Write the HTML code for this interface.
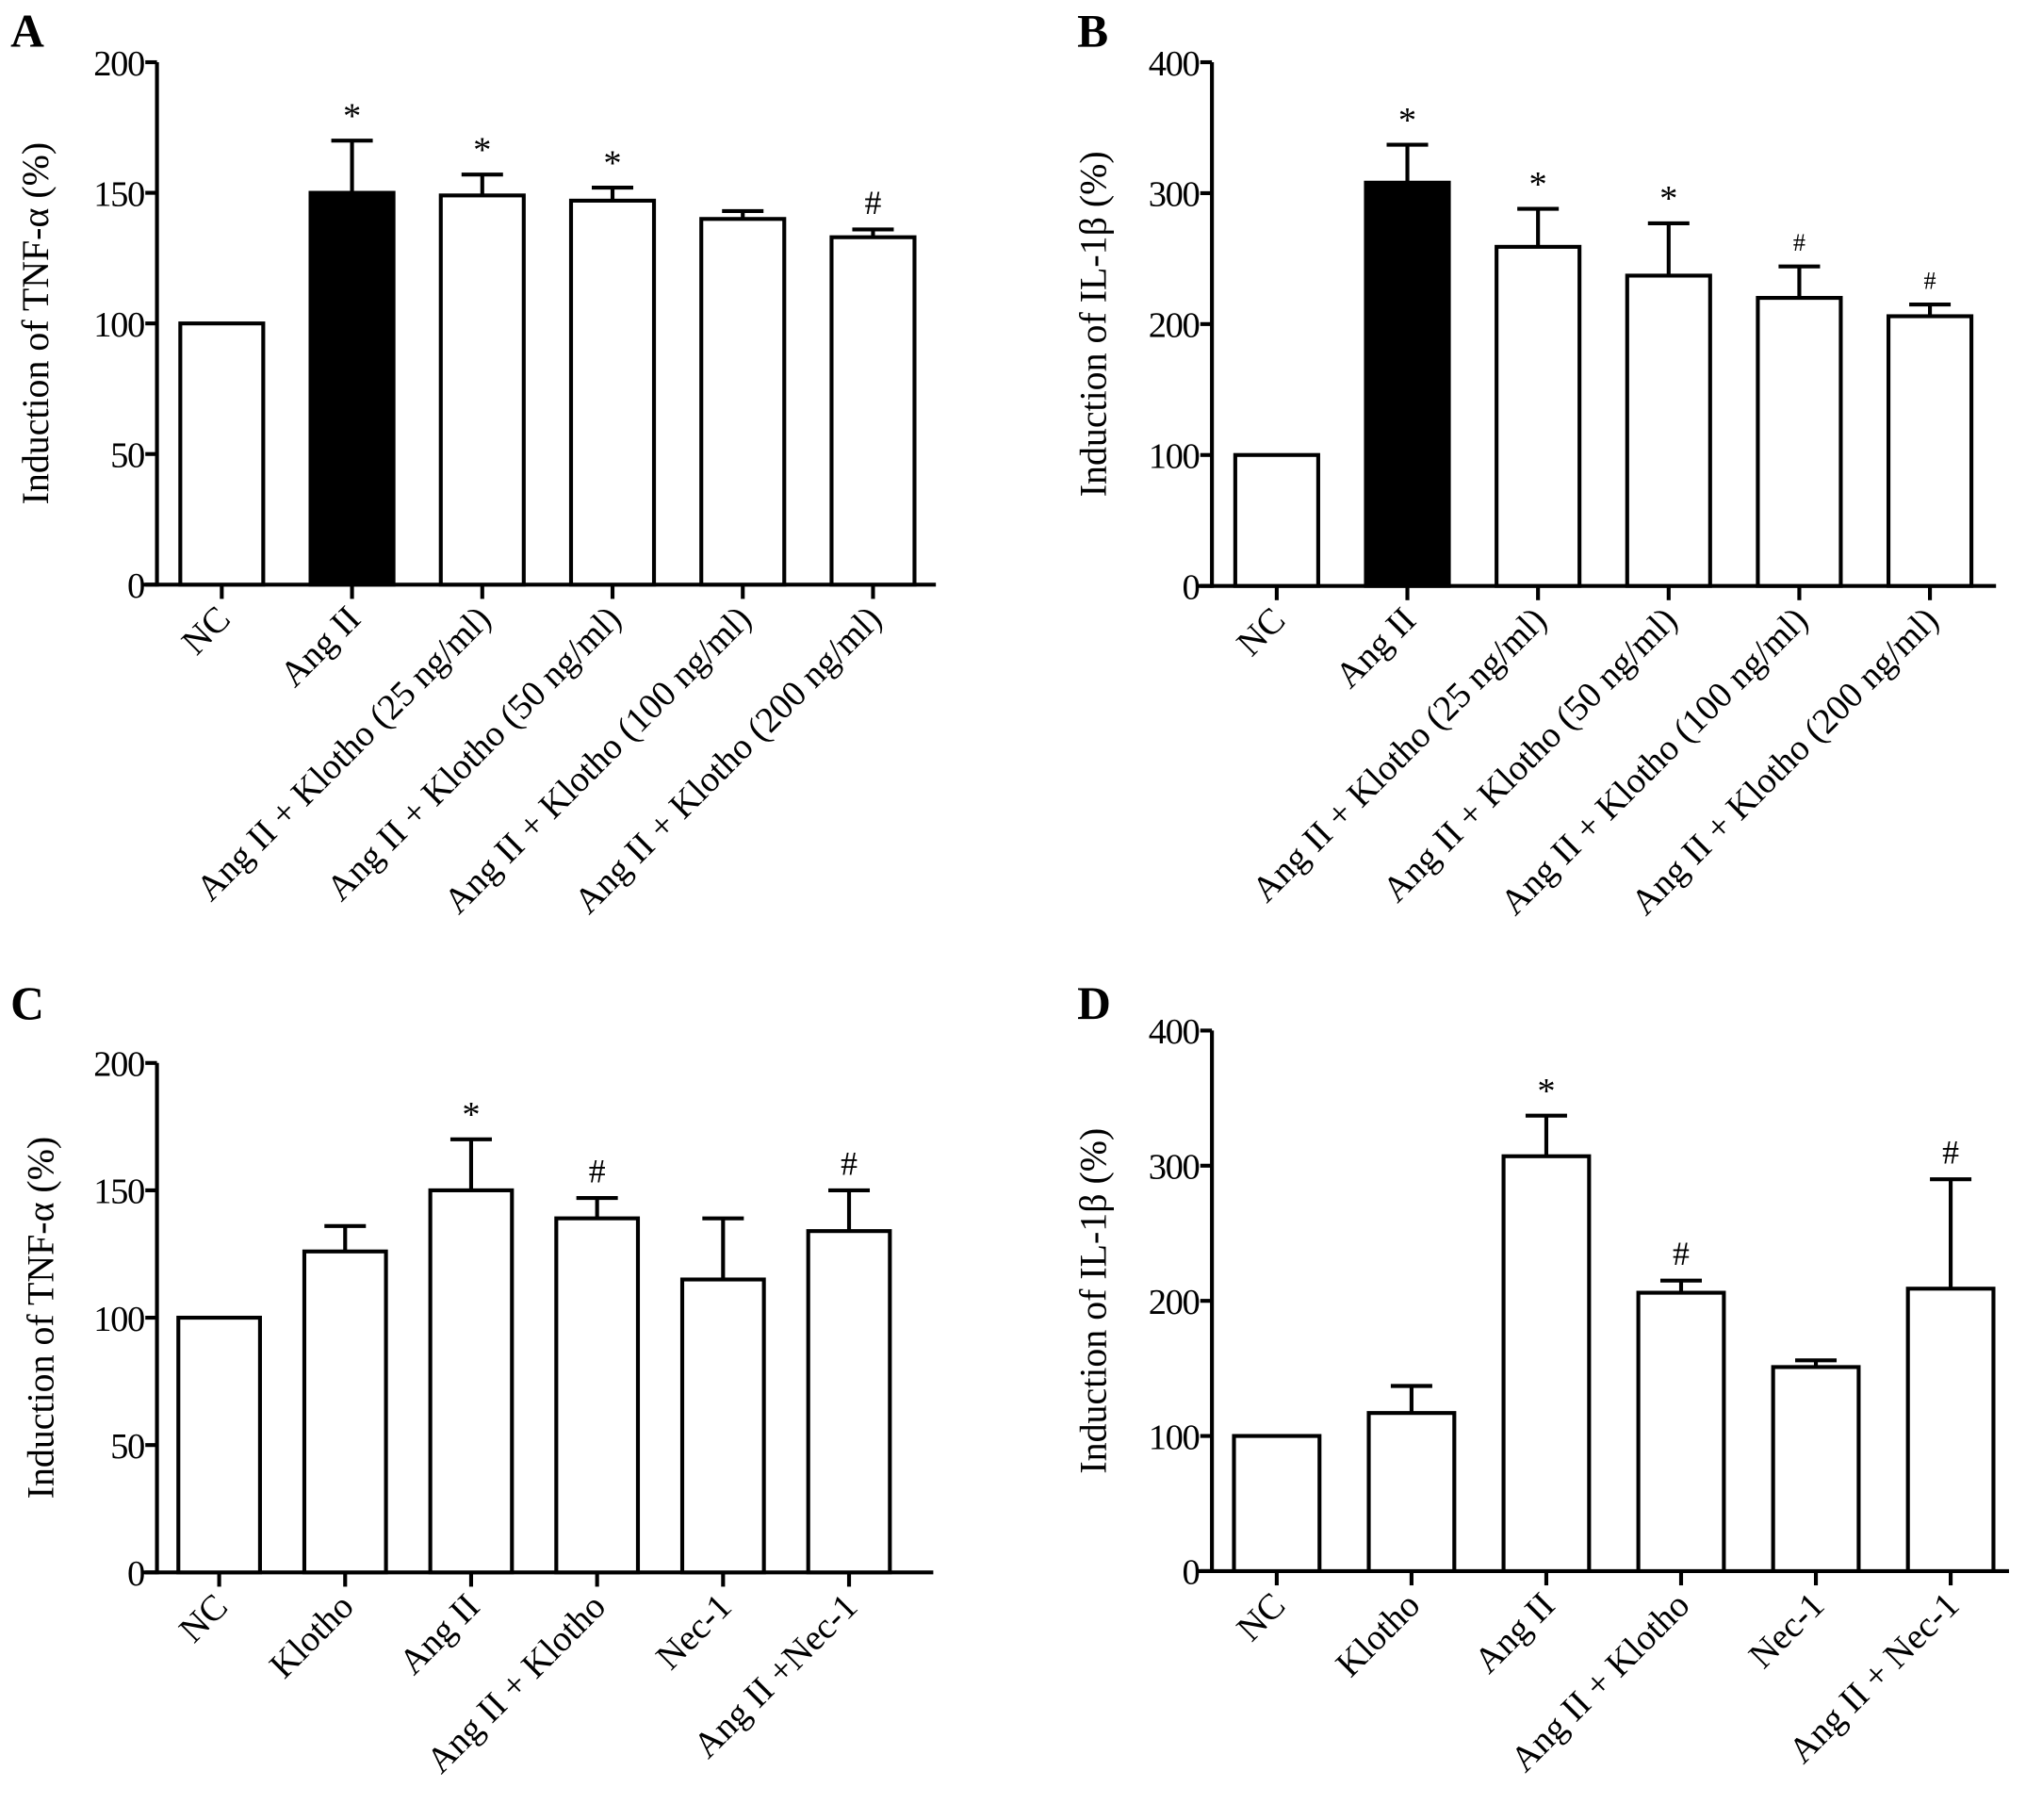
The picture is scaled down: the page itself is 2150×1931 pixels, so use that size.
<!DOCTYPE html>
<html><head><meta charset="utf-8"><style>
html,body{margin:0;padding:0;background:#fff}
svg{display:block}
text{font-family:"Liberation Serif",serif;fill:#000}
</style></head><body>
<svg id="fig" width="2150" height="1931" viewBox="0 0 1563 1404" xmlns="http://www.w3.org/2000/svg"></svg>
<script>
// Panel A data
const catsA = ["NC","Ang II","Ang II + Klotho (25 ng/ml)","Ang II + Klotho (50 ng/ml)","Ang II + Klotho (100 ng/ml)","Ang II + Klotho (200 ng/ml)"];
const valsA = [100,150,149,147,140,133];
const errA = [0,20,8,5,3,3];
const markA = ["","*","*","*","","#"];
const ticksA = [0,50,100,150,200];
// Panel B data
const catsB = ["NC","Ang II","Ang II + Klotho (25 ng/ml)","Ang II + Klotho (50 ng/ml)","Ang II + Klotho (100 ng/ml)","Ang II + Klotho (200 ng/ml)"];
const valsB = [100,308,259,237,220,206];
const errB = [0,29,29,40,24,9];
const markB = ["","*","*","*","#","#"];
const ticksB = [0,100,200,300,400];
// Panel C data
const catsC = ["NC","Klotho","Ang II","Ang II + Klotho","Nec-1","Ang II +Nec-1"];
const valsC = [100,126,150,139,115,134];
const errC = [0,10,20,8,24,16];
const markC = ["","","*","#","","#"];
const ticksC = [0,50,100,150,200];
// Panel D data
const catsD = ["NC","Klotho","Ang II","Ang II + Klotho","Nec-1","Ang II + Nec-1"];
const valsD = [100,117,307,206,151,209];
const errD = [0,20,30,9,5,81];
const markD = ["","","*","#","","#"];
const ticksD = [0,100,200,300,400];

const NS="http://www.w3.org/2000/svg";
const svg=document.getElementById('fig');
function el(tag,attrs,parent){const e=document.createElementNS(NS,tag);for(const k in attrs)e.setAttribute(k,attrs[k]);(parent||svg).appendChild(e);return e;}

function panel(p){
  const g=el('g',{});
  
  
  const ymax=p.ticks[p.ticks.length-1];
  const y=v=>p.y0-(v/ymax)*(p.y0-p.ytop);
  const x=i=>p.x0+i*p.step;
  const lt=el('text',{x:p.lx,y:p.ly,'font-size':36,'font-weight':'bold'},g);lt.textContent=p.letter;
  
  
  const ya=el('line',{x1:p.ax,y1:p.ytop,x2:p.ax,y2:p.y0+1.5,stroke:'#000','stroke-width':3},g);
  
  
  const xa=el('line',{x1:p.ax-12,y1:p.y0,x2:p.xend,y2:p.y0,stroke:'#000','stroke-width':3},g);
  
  
  p.ticks.forEach(t=>{
    el('line',{x1:p.ax-9,y1:y(t),x2:p.ax,y2:y(t),stroke:'#000','stroke-width':3},g);
    const tl=el('text',{x:p.ax-10,y:y(t)+10,'font-size':28,'text-anchor':'end','letter-spacing':-1},g);tl.textContent=t;
    
    
  });
  const yt=el('text',{x:0,y:0,'font-size':29,'text-anchor':'middle',transform:`translate(${p.tx},${(p.ytop+p.y0)/2}) rotate(-90)`},g);
  yt.textContent=p.title;
  
  
  p.cats.forEach((c,i)=>{
    const cx=x(i),w=p.bw;
    const v=p.vals[i],top=y(v);
    if(p.errs[i]>0){
      const et=y(v+p.errs[i]);
      const eb=el('line',{x1:cx,y1:top,x2:cx,y2:et,stroke:'#000','stroke-width':3},g);
      
      
      el('line',{x1:cx-16,y1:et,x2:cx+16,y2:et,stroke:'#000','stroke-width':3},g);
    }
    const r=el('rect',{x:cx-w/2,y:top,width:w,height:p.y0-top,fill:p.fill[i]?'#000':'#fff',stroke:'#000','stroke-width':3},g);
    
    
    el('line',{x1:cx,y1:p.y0,x2:cx,y2:p.y0+11,stroke:'#000','stroke-width':3},g);
    if(p.marks[i]){
      const star=p.marks[i]==='*';
      const my=y(v+p.errs[i])-(star?10:12);
      const m=el('text',{x:cx,y:my,'font-size':star?28:(p.smallHash?19:26),'text-anchor':'middle','font-family':'Liberation Sans, sans-serif'},g);
      m.textContent=p.marks[i];
      
      
    }
    const cl=el('text',{x:0,y:0,'font-size':28,'text-anchor':'end',transform:`translate(${cx+8},${p.y0+28}) rotate(-45)`},g);
    cl.textContent=c;
    
    
  });
}
panel({letter:'A',lx:8,ly:36,ax:121,ytop:48,y0:451,xend:722,x0:171,step:100.5,bw:64,ticks:ticksA,cats:catsA,vals:valsA,errs:errA,marks:markA,fill:[0,1,0,0,0,0],title:'Induction of TNF-α (%)',tx:37});
panel({letter:'B',lx:831,ly:36,ax:935,ytop:48,y0:452,xend:1540,x0:985,step:100.8,bw:64,ticks:ticksB,cats:catsB,vals:valsB,errs:errB,marks:markB,fill:[0,1,0,0,0,0],title:'Induction of IL-1β (%)',tx:853,smallHash:true});
panel({letter:'C',lx:8,ly:786,ax:121,ytop:820,y0:1213,xend:720,x0:169,step:97.2,bw:63,ticks:ticksC,cats:catsC,vals:valsC,errs:errC,marks:markC,fill:[0,0,0,0,0,0],title:'Induction of TNF-α (%)',tx:41});
panel({letter:'D',lx:831,ly:786,ax:935,ytop:795,y0:1212,xend:1550,x0:985,step:104,bw:66,ticks:ticksD,cats:catsD,vals:valsD,errs:errD,marks:markD,fill:[0,0,0,0,0,0],title:'Induction of IL-1β (%)',tx:853});
</script>
</body></html>
